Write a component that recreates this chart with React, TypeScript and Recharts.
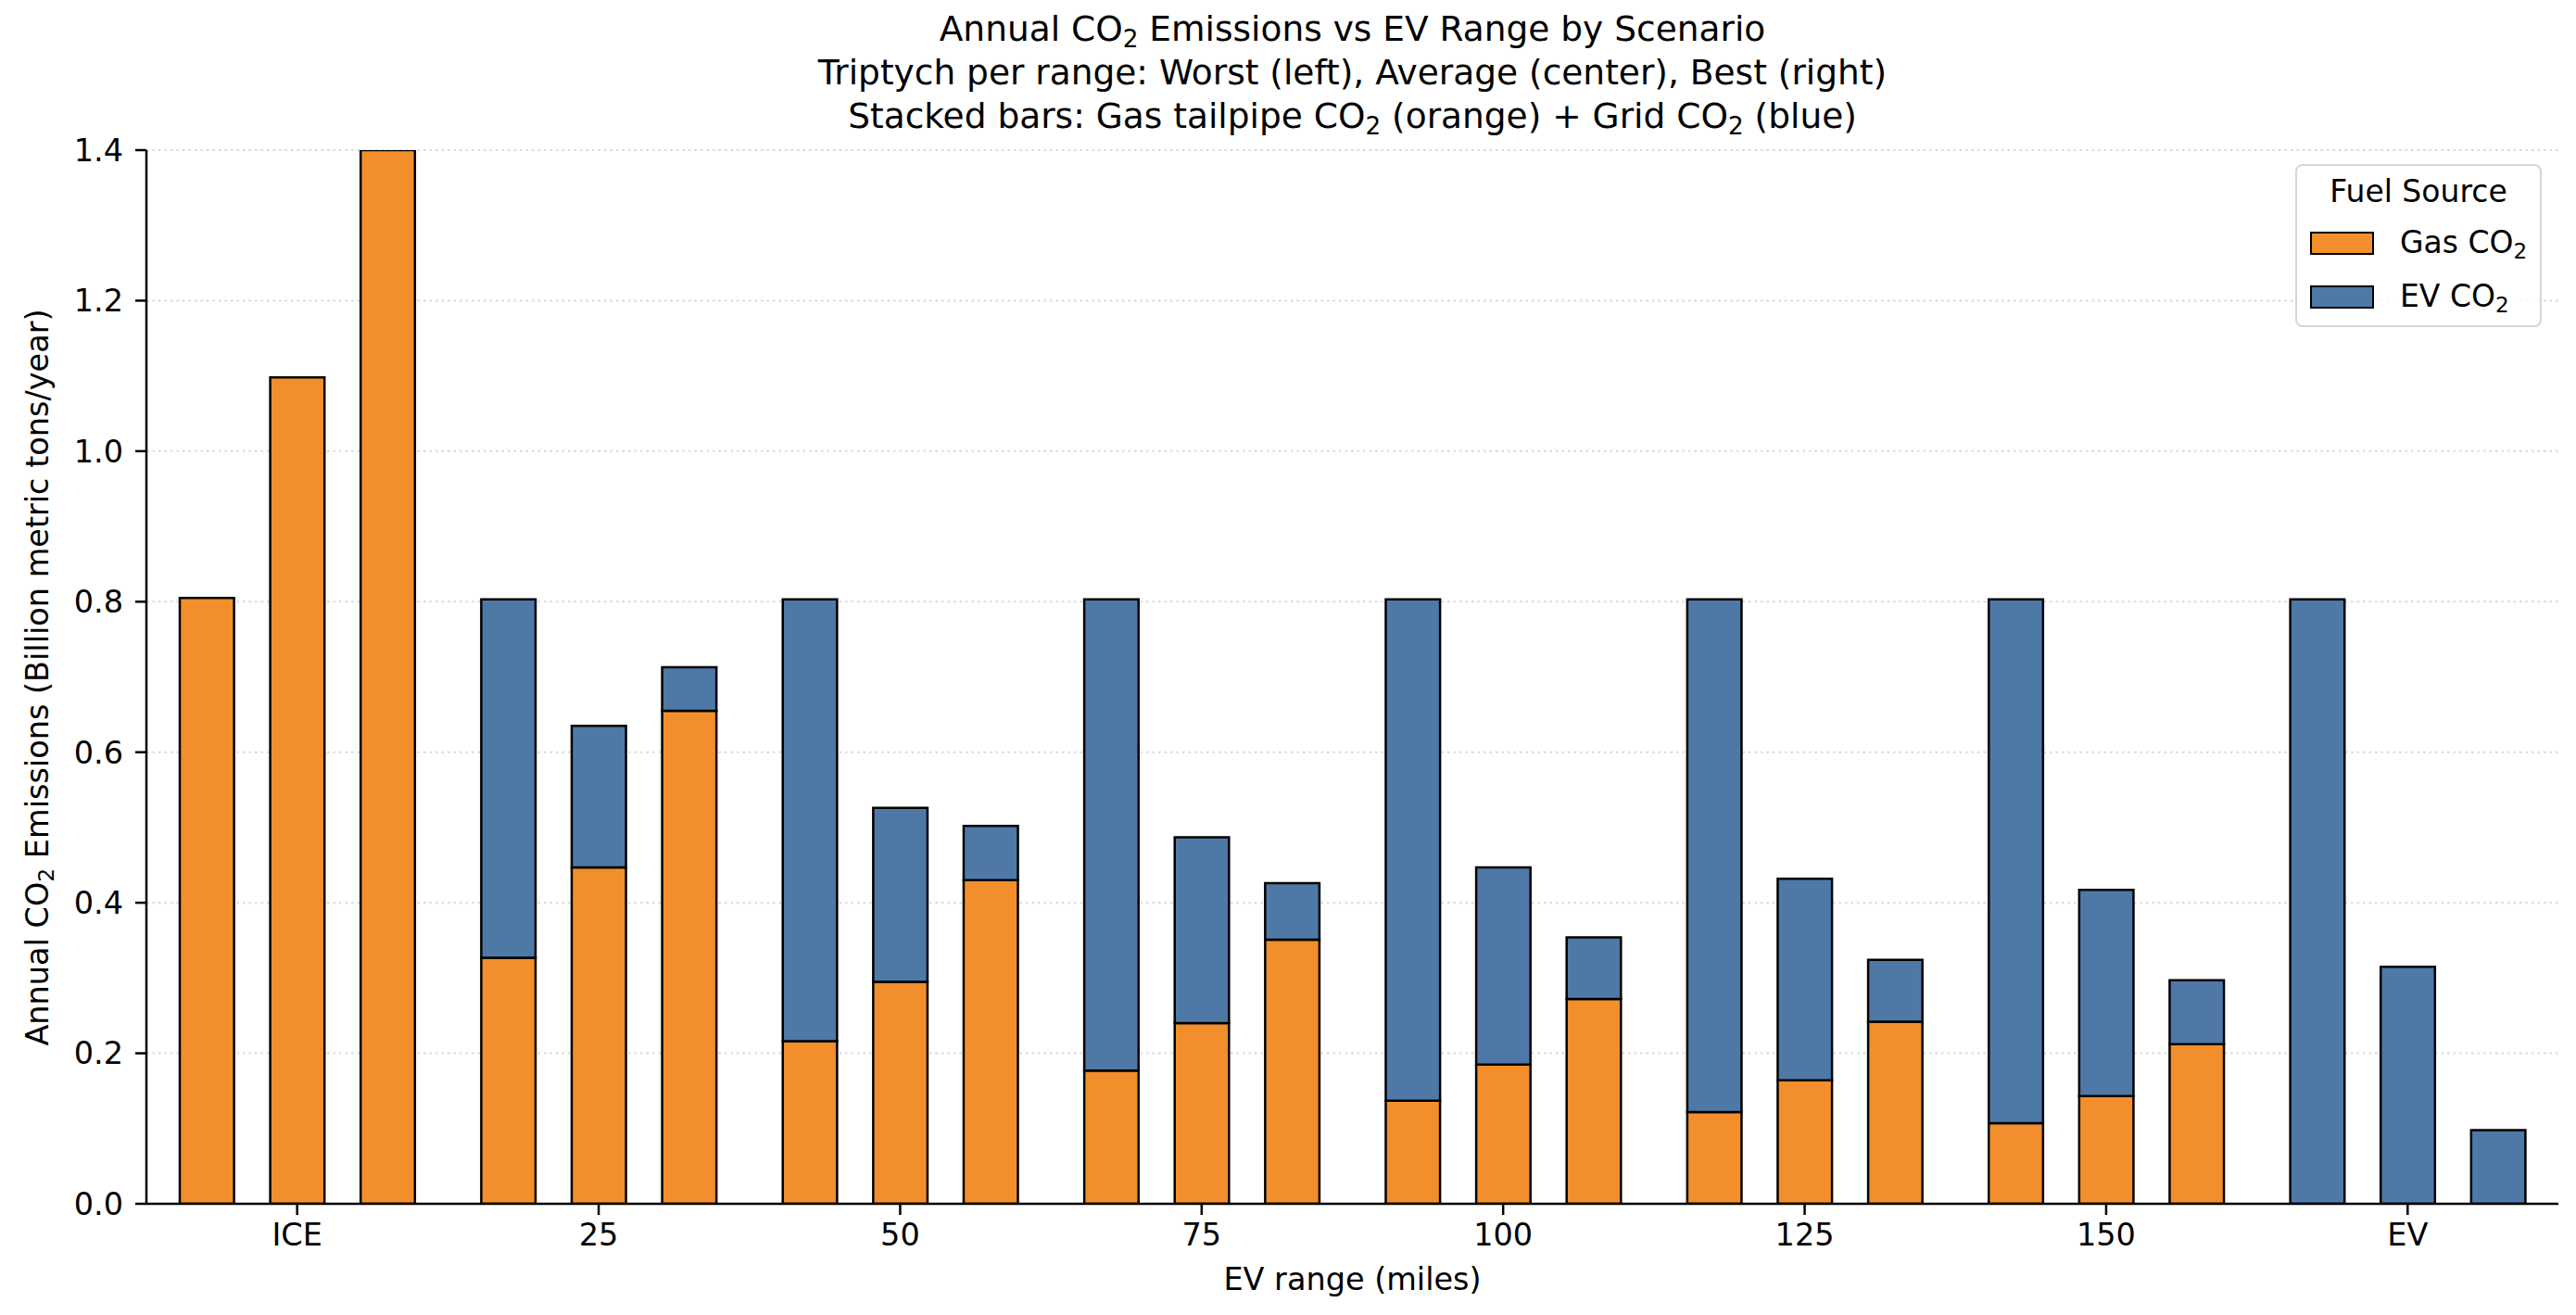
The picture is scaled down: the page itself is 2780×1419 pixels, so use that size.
import React from "react";
import { BarChart, Bar, XAxis, YAxis, CartesianGrid } from "recharts";

// scenario triptych per range: worst / average / best
const categories = ["ICE", "25", "50", "75", "100", "125", "150", "EV"];
const worstGas = [0.805, 0.327, 0.216, 0.177, 0.137, 0.122, 0.107, 0];
const worstEv = [0, 0.476, 0.587, 0.626, 0.666, 0.681, 0.696, 0.803];
const avgGas = [1.098, 0.447, 0.295, 0.24, 0.185, 0.164, 0.143, 0];
const avgEv = [0, 0.188, 0.231, 0.247, 0.262, 0.268, 0.274, 0.315];
const bestGas = [1.52, 0.655, 0.43, 0.351, 0.272, 0.242, 0.212, 0];
const bestEv = [0, 0.058, 0.072, 0.075, 0.082, 0.082, 0.085, 0.098];
const yTicks = [0, 0.2, 0.4, 0.6, 0.8, 1.0, 1.2, 1.4];

const GAS = "#F28E2B";
const EV = "#4E79A7";
const FONT = "DejaVu Sans, sans-serif";
const FS = 33.5;

const data = categories.map((c, i) => ({
  label: c,
  worstGas: worstGas[i],
  worstEv: worstEv[i],
  avgGas: avgGas[i],
  avgEv: avgEv[i],
  bestGas: bestGas[i],
  bestEv: bestEv[i],
}));

const W = 2780;
const H = 1419;
const plotLeft = 158;
const plotRight = 2761;

function Sub({ children }: { children: React.ReactNode }) {
  return (
    <sub style={{ fontSize: "70%", verticalAlign: "-0.28em", lineHeight: 0 }}>{children}</sub>
  );
}

function FuelLegend() {
  const items = [
    { name: "Gas CO", color: GAS, top: 71 },
    { name: "EV CO", color: EV, top: 129 },
  ];
  return (
    <div
      style={{
        position: "absolute",
        left: 2477,
        top: 177,
        width: 266,
        height: 176,
        boxSizing: "border-box",
        border: "2px solid #d6d6d6",
        borderRadius: 8,
        background: "rgba(255,255,255,0.8)",
        fontFamily: FONT,
        fontSize: 33,
        color: "#000",
      }}
    >
      <div style={{ position: "absolute", left: 0, right: 0, top: 9, lineHeight: "38px", textAlign: "center" }}>
        Fuel Source
      </div>
      {items.map((it) => (
        <React.Fragment key={it.name}>
          <div
            style={{
              position: "absolute",
              left: 14,
              top: it.top,
              width: 69,
              height: 25,
              boxSizing: "border-box",
              background: it.color,
              border: "2.5px solid #000",
            }}
          />
          <div style={{ position: "absolute", left: 111, top: it.top - 7, lineHeight: "38px", whiteSpace: "nowrap" }}>
            {it.name}
            <Sub>2</Sub>
          </div>
        </React.Fragment>
      ))}
    </div>
  );
}

export default function App() {
  const tickStyle = { fontSize: FS, fill: "#000", fontFamily: FONT };
  return (
    <div style={{ position: "absolute", left: 0, top: 0, width: W, height: H, background: "#fff" }}>
      <BarChart
        width={W}
        height={H}
        data={data}
        margin={{ top: 162, right: W - plotRight, bottom: 60, left: 0 }}
        barSize={58.6}
        barGap={39}
      >
        <CartesianGrid vertical={false} stroke="#d9d9d9" strokeWidth={2} strokeDasharray="2.5 4" />
        <XAxis
          dataKey="label"
          height={60}
          tick={tickStyle}
          tickSize={12}
          tickMargin={9}
          axisLine={{ stroke: "#000", strokeWidth: 2.5 }}
          tickLine={{ stroke: "#000", strokeWidth: 2.5 }}
        />
        <YAxis
          width={plotLeft}
          domain={[0, 1.4]}
          ticks={yTicks}
          allowDataOverflow
          tickFormatter={(v: number) => v.toFixed(1)}
          tick={tickStyle}
          tickSize={12}
          tickMargin={13}
          axisLine={{ stroke: "#000", strokeWidth: 2.5 }}
          tickLine={{ stroke: "#000", strokeWidth: 2.5 }}
        />
        <Bar dataKey="worstGas" stackId="worst" fill={GAS} stroke="#000" strokeWidth={2.5} isAnimationActive={false} />
        <Bar dataKey="worstEv" stackId="worst" fill={EV} stroke="#000" strokeWidth={2.5} isAnimationActive={false} />
        <Bar dataKey="avgGas" stackId="avg" fill={GAS} stroke="#000" strokeWidth={2.5} isAnimationActive={false} />
        <Bar dataKey="avgEv" stackId="avg" fill={EV} stroke="#000" strokeWidth={2.5} isAnimationActive={false} />
        <Bar dataKey="bestGas" stackId="best" fill={GAS} stroke="#000" strokeWidth={2.5} isAnimationActive={false} />
        <Bar dataKey="bestEv" stackId="best" fill={EV} stroke="#000" strokeWidth={2.5} isAnimationActive={false} />
      </BarChart>

      {/* title, three lines centred over the axes */}
      <div
        style={{
          position: "absolute",
          left: plotLeft,
          width: plotRight - plotLeft,
          top: 7.5,
          textAlign: "center",
          fontFamily: FONT,
          fontSize: 37.5,
          lineHeight: "47px",
          color: "#000",
          whiteSpace: "nowrap",
        }}
      >
        <div>
          Annual CO<Sub>2</Sub> Emissions vs EV Range by Scenario
        </div>
        <div>Triptych per range: Worst (left), Average (center), Best (right)</div>
        <div>
          Stacked bars: Gas tailpipe CO<Sub>2</Sub> (orange) + Grid CO<Sub>2</Sub> (blue)
        </div>
      </div>

      <div
        style={{
          position: "absolute",
          left: plotLeft,
          width: plotRight - plotLeft,
          top: 1361,
          textAlign: "center",
          fontFamily: FONT,
          fontSize: FS,
          lineHeight: "39px",
          color: "#000",
        }}
      >
        EV range (miles)
      </div>

      <div
        style={{
          position: "absolute",
          left: 40,
          top: (162 + 1299) / 2,
          transform: "translate(-50%, -50%) rotate(-90deg)",
          fontFamily: FONT,
          fontSize: FS,
          lineHeight: "39px",
          color: "#000",
          whiteSpace: "nowrap",
        }}
      >
        Annual CO<Sub>2</Sub> Emissions (Billion metric tons/year)
      </div>

      <FuelLegend />
    </div>
  );
}
